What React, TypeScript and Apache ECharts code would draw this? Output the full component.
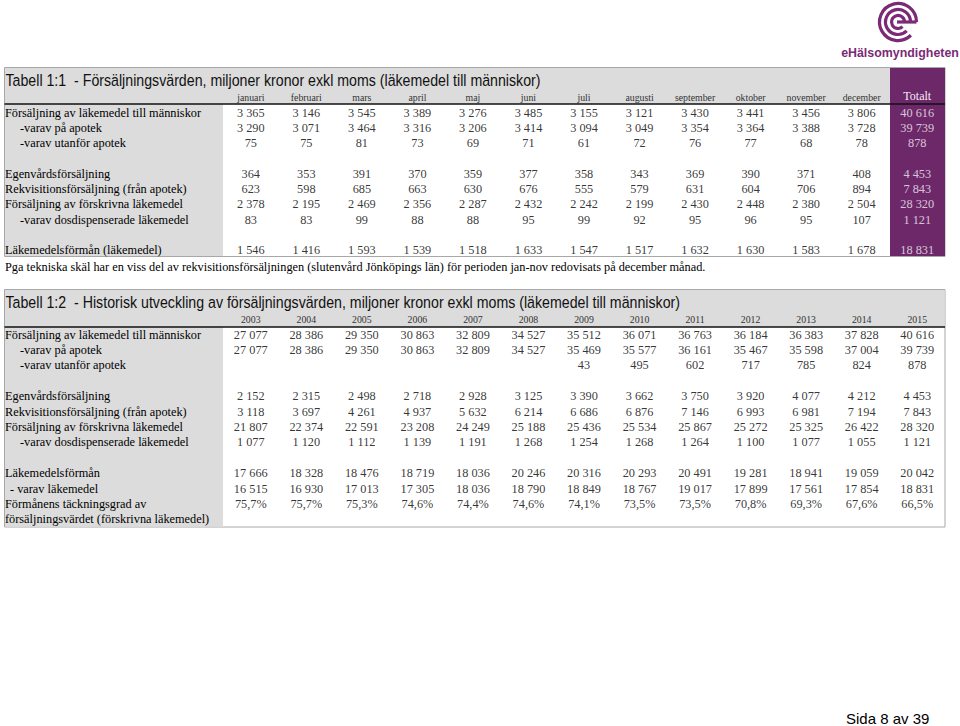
import React, { useEffect, useRef } from "react";
import * as echarts from "echarts";

// ---------- Data ----------
const MONTHS = ["januari", "februari", "mars", "april", "maj", "juni", "juli", "augusti", "september", "oktober", "november", "december", "Totalt"];
const YEARS = ["2003", "2004", "2005", "2006", "2007", "2008", "2009", "2010", "2011", "2012", "2013", "2014", "2015"];

const T1_ROWS = [
  "Försäljning av läkemedel till människor",
  "-varav på apotek",
  "-varav utanför apotek",
  "",
  "Egenvårdsförsäljning",
  "Rekvisitionsförsäljning (från apotek)",
  "Försäljning av förskrivna läkemedel",
  "-varav dosdispenserade läkemedel",
  "",
  "Läkemedelsförmån (läkemedel)",
];
const T1_INDENT = [0, 15, 15, 0, 0, 0, 0, 15, 0, 0];

const t1Sales = [3365, 3146, 3545, 3389, 3276, 3485, 3155, 3121, 3430, 3441, 3456, 3806, 40616];
const t1Apotek = [3290, 3071, 3464, 3316, 3206, 3414, 3094, 3049, 3354, 3364, 3388, 3728, 39739];
const t1Utanfor = [75, 75, 81, 73, 69, 71, 61, 72, 76, 77, 68, 78, 878];
const t1Egenvard = [364, 353, 391, 370, 359, 377, 358, 343, 369, 390, 371, 408, 4453];
const t1Rekv = [623, 598, 685, 663, 630, 676, 555, 579, 631, 604, 706, 894, 7843];
const t1Forskr = [2378, 2195, 2469, 2356, 2287, 2432, 2242, 2199, 2430, 2448, 2380, 2504, 28320];
const t1Dosdisp = [83, 83, 99, 88, 88, 95, 99, 92, 95, 96, 95, 107, 1121];
const t1Forman = [1546, 1416, 1593, 1539, 1518, 1633, 1547, 1517, 1632, 1630, 1583, 1678, 18831];

const T2_ROWS = [
  "Försäljning av läkemedel till människor",
  "-varav på apotek",
  "-varav utanför apotek",
  "",
  "Egenvårdsförsäljning",
  "Rekvisitionsförsäljning (från apotek)",
  "Försäljning av förskrivna läkemedel",
  "-varav dosdispenserade läkemedel",
  "",
  "Läkemedelsförmån",
  "- varav läkemedel",
  "Förmånens täckningsgrad av",
  "försäljningsvärdet (förskrivna läkemedel)",
];
const T2_INDENT = [0, 15, 15, 0, 0, 0, 0, 15, 0, 0, 5, 0, 0];

const t2Sales = [27077, 28386, 29350, 30863, 32809, 34527, 35512, 36071, 36763, 36184, 36383, 37828, 40616];
const t2Apotek = [27077, 28386, 29350, 30863, 32809, 34527, 35469, 35577, 36161, 35467, 35598, 37004, 39739];
const t2Utanfor = [null, null, null, null, null, null, 43, 495, 602, 717, 785, 824, 878];
const t2Egenvard = [2152, 2315, 2498, 2718, 2928, 3125, 3390, 3662, 3750, 3920, 4077, 4212, 4453];
const t2Rekv = [3118, 3697, 4261, 4937, 5632, 6214, 6686, 6876, 7146, 6993, 6981, 7194, 7843];
const t2Forskr = [21807, 22374, 22591, 23208, 24249, 25188, 25436, 25534, 25867, 25272, 25325, 26422, 28320];
const t2Dosdisp = [1077, 1120, 1112, 1139, 1191, 1268, 1254, 1268, 1264, 1100, 1077, 1055, 1121];
const t2Forman = [17666, 18328, 18476, 18719, 18036, 20246, 20316, 20293, 20491, 19281, 18941, 19059, 20042];
const t2FormanLak = [16515, 16930, 17013, 17305, 18036, 18790, 18849, 18767, 19017, 17899, 17561, 17854, 18831];
const t2Tackning = [75.7, 75.7, 75.3, 74.6, 74.4, 74.6, 74.1, 73.5, 73.5, 70.8, 69.3, 67.6, 66.5];

const T1_TITLE = "Tabell 1:1  - Försäljningsvärden, miljoner kronor exkl moms (läkemedel till människor)";
const T2_TITLE = "Tabell 1:2  - Historisk utveckling av försäljningsvärden, miljoner kronor exkl moms (läkemedel till människor)";
const FOOTNOTE = "Pga tekniska skäl har en viss del av rekvisitionsförsäljningen (slutenvård Jönköpings län) för perioden jan-nov redovisats på december månad.";
const PAGE = "Sida 8 av 39";
const LOGO_TEXT = "eHälsomyndigheten";

// ---------- Helpers ----------
const fmtNum = (v: number) => String(v).replace(/\B(?=(\d{3})+(?!\d))/g, " ");
const fmtPct = (v: number) => v.toFixed(1).replace(".", ",") + "%";

const SERIF = "'Liberation Serif', 'Times New Roman', serif";
const SANS = "'Liberation Sans', Arial, sans-serif";
const GRAY = "#dcdcdc";
const PURPLE = "#6c2868";
const BORDER = "#a8a8a8";
const LOGO = "#7b2a77";

type Row = { values: (number | null)[] | null; pct?: boolean };

function buildCells(rows: Row[], highlightCol: number | null) {
  const out: any[] = [];
  rows.forEach((row, r) => {
    if (!row.values) return;
    row.values.forEach((v, c) => {
      if (v == null) return;
      const item: any = { name: row.pct ? fmtPct(v) : fmtNum(v), value: [c, r] };
      if (highlightCol !== null && c === highlightCol) item.label = { color: "#f6eef6" };
      out.push(item);
    });
  });
  return out;
}

const t1Cells = buildCells(
  [
    { values: t1Sales },
    { values: t1Apotek },
    { values: t1Utanfor },
    { values: null },
    { values: t1Egenvard },
    { values: t1Rekv },
    { values: t1Forskr },
    { values: t1Dosdisp },
    { values: null },
    { values: t1Forman },
  ],
  12
);

const t2Cells = buildCells(
  [
    { values: t2Sales },
    { values: t2Apotek },
    { values: t2Utanfor },
    { values: null },
    { values: t2Egenvard },
    { values: t2Rekv },
    { values: t2Forskr },
    { values: t2Dosdisp },
    { values: null },
    { values: t2Forman },
    { values: t2FormanLak },
    { values: t2Tackning, pct: true },
    { values: null },
  ],
  null
);

function yAxisFor(gridIndex: number, rows: string[], indent: number[]) {
  return {
    type: "category",
    gridIndex,
    data: rows,
    inverse: true,
    axisLine: { show: false },
    axisTick: { show: false },
    splitLine: { show: false },
    axisLabel: {
      interval: 0,
      align: "left",
      margin: 218,
      color: "#000",
      fontFamily: SERIF,
      fontSize: 12.3,
      formatter: (val: string, idx: number) => (indent[idx] ? `{i${indent[idx]}|${val}}` : val),
      rich: {
        i15: { padding: [0, 0, 0, 15], fontFamily: SERIF, fontSize: 12.3, color: "#000" },
        i5: { padding: [0, 0, 0, 5], fontFamily: SERIF, fontSize: 12.3, color: "#000" },
      },
    },
  };
}

function xAxisFor(gridIndex: number, cats: string[]) {
  return {
    type: "category",
    gridIndex,
    data: cats,
    position: "top",
    axisLine: { show: false },
    axisTick: { show: false },
    splitLine: { show: false },
    axisLabel: {
      interval: 0,
      margin: 3,
      color: "#333",
      fontFamily: SERIF,
      fontSize: 9.8,
      formatter: (val: string) => (val === "Totalt" ? `{tot|${val}}` : val),
      rich: {
        tot: { color: "#f6eef6", fontSize: 12, fontFamily: SERIF },
      },
    },
  };
}

function tableFrame(top: number, bottom: number, headerBottom: number, title: string, purple: boolean) {
  const els: any[] = [
    {
      type: "rect",
      z: -20,
      shape: { x: 4.5, y: top, width: 940.5, height: bottom - top },
      style: { fill: "#fff", stroke: BORDER, lineWidth: 1 },
    },
    {
      type: "rect",
      z: -19,
      shape: { x: 5, y: top + 0.5, width: purple ? 885 : 939.5, height: headerBottom - top - 0.5 },
      style: { fill: GRAY },
    },
    {
      type: "rect",
      z: -19,
      shape: { x: 5, y: headerBottom, width: 218, height: bottom - headerBottom - 0.5 },
      style: { fill: GRAY },
    },
  ];
  if (purple) {
    els.push({
      type: "rect",
      z: -18,
      shape: { x: 890, y: top + 0.5, width: 55, height: bottom - top - 1 },
      style: { fill: PURPLE },
    });
  }
  els.push({
    type: "line",
    z: -10,
    shape: { x1: 4.5, y1: headerBottom, x2: 945, y2: headerBottom },
    style: { stroke: "#111", lineWidth: 1.5 },
  });
  els.push({
    type: "text",
    z: 5,
    x: 5.5,
    y: top + 13,
    scaleX: 0.86,
    style: { text: title, fontFamily: SANS, fontSize: 16.5, fill: "#111", align: "left", verticalAlign: "middle" },
  });
  return els;
}

export default function App() {
  const ref = useRef<HTMLDivElement>(null);

  useEffect(() => {
    if (!ref.current) return;
    const chart = echarts.init(ref.current, undefined, { renderer: "svg" });

    const logoCx = 898;
    const logoCy = 22;
    const logoEls: any[] = [18.5, 12.5, 6.5].map((r) => ({
      type: "arc",
      z: 5,
      shape: { cx: logoCx, cy: logoCy, r, startAngle: 0.8, endAngle: Math.PI * 2, clockwise: true },
      style: { stroke: LOGO, lineWidth: 3.2, fill: "none" },
    }));
    logoEls.push({
      type: "line",
      z: 5,
      shape: { x1: logoCx - 1, y1: logoCy, x2: logoCx + 18.5, y2: logoCy },
      style: { stroke: LOGO, lineWidth: 3.2 },
    });
    logoEls.push({
      type: "text",
      z: 5,
      x: 900,
      y: 53,
      style: { text: LOGO_TEXT, fontFamily: SANS, fontWeight: "bold", fontSize: 12.4, fill: LOGO, align: "center", verticalAlign: "middle" },
    });

    const option: any = {
      animation: false,
      backgroundColor: "#fff",
      grid: [
        { left: 223, top: 105, width: 722, height: 153, containLabel: false },
        { left: 223, top: 327, width: 722, height: 200, containLabel: false },
      ],
      xAxis: [xAxisFor(0, MONTHS), xAxisFor(1, YEARS)],
      yAxis: [yAxisFor(0, T1_ROWS, T1_INDENT), yAxisFor(1, T2_ROWS, T2_INDENT)],
      series: [
        {
          type: "scatter",
          xAxisIndex: 0,
          yAxisIndex: 0,
          symbolSize: 0,
          silent: true,
          data: t1Cells,
          label: { show: true, position: "inside", formatter: "{b}", color: "#000", fontFamily: SERIF, fontSize: 12.3 },
        },
        {
          type: "scatter",
          xAxisIndex: 1,
          yAxisIndex: 1,
          symbolSize: 0,
          silent: true,
          data: t2Cells,
          label: { show: true, position: "inside", formatter: "{b}", color: "#000", fontFamily: SERIF, fontSize: 12.3 },
        },
      ],
      graphic: [
        ...tableFrame(67.5, 256.5, 104, T1_TITLE, true),
        ...tableFrame(289.5, 527, 327, T2_TITLE, false),
        {
          type: "text",
          z: 5,
          x: 5,
          y: 266.5,
          style: { text: FOOTNOTE, fontFamily: SERIF, fontSize: 12.3, fill: "#000", align: "left", verticalAlign: "middle" },
        },
        {
          type: "text",
          z: 5,
          x: 846,
          y: 718,
          style: { text: PAGE, fontFamily: SANS, fontSize: 15, fill: "#000", align: "left", verticalAlign: "middle" },
        },
        ...logoEls,
      ],
    };

    chart.setOption(option);
    return () => chart.dispose();
  }, []);

  return <div ref={ref} style={{ position: "fixed", left: 0, top: 0, width: 960, height: 726 }} />;
}
